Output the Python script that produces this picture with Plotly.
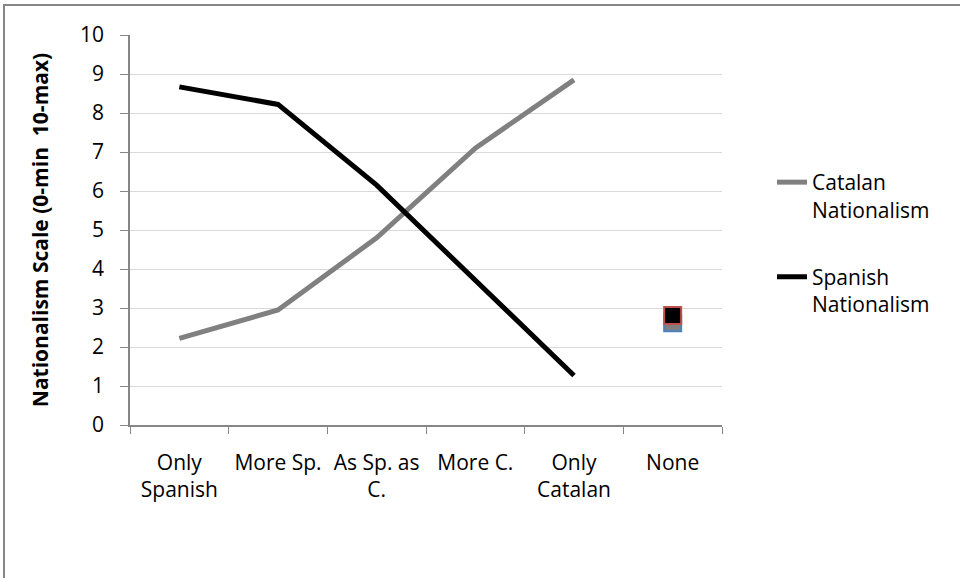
import plotly.graph_objects as go

categories = ["Only Spanish", "More Sp.", "As Sp. as C.", "More C.", "Only Catalan", "None"]
tick_labels = ["Only<br>Spanish", "More Sp.", "As Sp. as<br>C.", "More C.", "Only<br>Catalan", "None"]
line_categories = categories[:5]
catalan = [2.22, 2.95, 4.8, 7.1, 8.85]
spanish = [8.67, 8.22, 6.15, 3.7, 1.27]
none_catalan = [2.62]
none_spanish = [2.81]

FONT = "Open Sans, sans-serif"
FS = 21

fig = go.Figure()
fig.add_trace(go.Scatter(x=line_categories, y=catalan, mode="lines", name="Catalan<br>Nationalism",
                         line=dict(color="#808080", width=5), legendgroup="a"))
fig.add_trace(go.Scatter(x=line_categories, y=spanish, mode="lines", name="Spanish<br>Nationalism",
                         line=dict(color="#000000", width=5), legendgroup="b"))
fig.add_trace(go.Scatter(x=["None"], y=none_catalan, mode="markers", showlegend=False,
                         marker=dict(symbol="square", size=17, color="#808080",
                                     line=dict(color="#4F81BD", width=2))))
fig.add_trace(go.Scatter(x=["None"], y=none_spanish, mode="markers", showlegend=False,
                         marker=dict(symbol="square", size=17, color="#000000",
                                     line=dict(color="#C0504D", width=2))))

W, H = 960, 578
L, R, T, B = 130, 238, 35, 153
pw, ph = W - L - R, H - T - B

fig.update_layout(
    width=W, height=H,
    margin=dict(l=L, r=R, t=T, b=B),
    paper_bgcolor="white", plot_bgcolor="white",
    font=dict(family=FONT, size=FS, color="#000000"),
    showlegend=True,
    legend=dict(x=(772 - L) / pw, y=1 - (162 - T) / ph, xanchor="left", yanchor="top",
                valign="top", traceorder="grouped", tracegroupgap=37,
                font=dict(size=FS, family=FONT), bgcolor="rgba(0,0,0,0)"),
    xaxis=dict(type="category", categoryorder="array", categoryarray=categories,
               tickmode="array", tickvals=categories, ticktext=tick_labels,
               range=[-0.5, 5.5], tickson="boundaries", ticks="outside", ticklen=7,
               tickcolor="#868686", showline=True, linecolor="#868686", linewidth=1.5,
               showgrid=False, ticklabelstandoff=18, tickfont=dict(size=FS)),
    yaxis=dict(range=[0, 10], tickmode="linear", tick0=0, dtick=1, ticks="outside",
               ticklen=8, tickcolor="#868686", showline=True, linecolor="#868686",
               linewidth=1.5, showgrid=True, gridcolor="#D9D9D9", gridwidth=1,
               zeroline=False, ticklabelstandoff=12, tickfont=dict(size=FS),
               title=dict(text="<b>Nationalism Scale (0-min  10-max)</b>", standoff=26,
                          font=dict(size=21))),
    shapes=[dict(type="rect", xref="paper", yref="paper",
                 x0=(4 - L) / pw, x1=(1000 - L) / pw,
                 y0=-(640 - T - ph) / ph, y1=1 + (T - 5) / ph,
                 line=dict(color="#868686", width=2), layer="below")],
)

fig.write_html("out.html")
